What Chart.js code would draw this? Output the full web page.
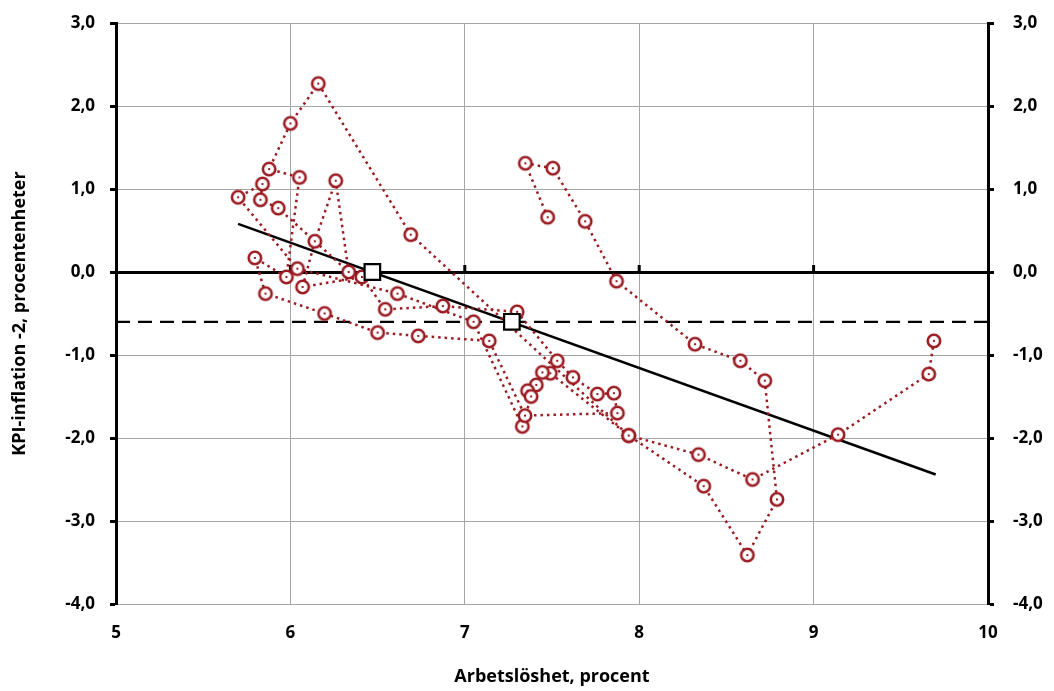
<!DOCTYPE html>
<html>
<head>
<meta charset="utf-8">
<script src="https://cdn.jsdelivr.net/npm/chart.js@4.4.1/dist/chart.umd.min.js"></script>
<style>
  body { margin: 0; background: #fff; }
  #wrap { width: 1054px; height: 691px; }
</style>
</head>
<body>
<div id="wrap"><canvas id="chart"></canvas></div>
<script>
// arbetslöshet (x) och KPI-inflation minus 2 (y), i tidsordning
const unemployment = [9.69, 9.66, 9.14, 8.65, 8.34, 7.94, 7.49, 7.445, 7.41, 7.36,
  7.38, 7.33, 7.05, 6.614, 6.04, 5.70, 5.84, 5.828, 5.93, 6.334,
  6.26, 6.14, 6.07, 6.41, 6.544, 6.874, 7.30, 7.53, 7.62, 7.76,
  7.855, 7.875, 7.345, 7.14, 6.733, 6.50, 6.196, 5.857, 5.796, 5.977,
  6.052, 5.878, 6.00, 6.16, 6.69, 7.94, 8.37, 8.62, 8.79, 8.72,
  8.58, 8.32, 7.87, 7.69, 7.505, 7.347, 7.475];
const inflationGap = [-0.83, -1.23, -1.96, -2.50, -2.20, -1.97, -1.22, -1.21, -1.36, -1.43,
  -1.50, -1.86, -0.60, -0.26, 0.04, 0.90, 1.06, 0.87, 0.77, 0.00,
  1.10, 0.37, -0.18, -0.06, -0.45, -0.41, -0.48, -1.07, -1.27, -1.47,
  -1.46, -1.70, -1.73, -0.83, -0.77, -0.73, -0.50, -0.26, 0.17, -0.06,
  1.14, 1.24, 1.79, 2.27, 0.45, -1.97, -2.58, -3.41, -2.74, -1.31,
  -1.07, -0.87, -0.11, 0.61, 1.25, 1.31, 0.66];

// skattad långsiktig Phillipskurva
const fitX = [5.7, 9.7];
const fitY = [0.58, -2.44];
// genomsnittlig inflation -0,6
const avgX = [5, 10];
const avgY = [-0.6, -0.6];
// markerade punkter på kurvan
const markX = [6.47, 7.27];
const markY = [0, -0.6];

const xTicks = [5, 6, 7, 8, 9, 10];
const yTicks = [-4, -3, -2, -1, 0, 1, 2, 3];

const red = '#9a1c22';
const gridGray = '#a6a6a6';
const font = { family: '"Open Sans", "DejaVu Sans", sans-serif', size: 17, weight: 'bold' };
const titleFont = { family: '"Open Sans", "DejaVu Sans", sans-serif', size: 18, weight: 'bold' };

function pts(xs, ys) {
  return xs.map((x, i) => ({ x: x, y: ys[i] }));
}

function ringMarker() {
  const c = document.createElement('canvas');
  c.width = 18; c.height = 18;
  const g = c.getContext('2d');
  g.beginPath();
  g.arc(9, 9, 6.2, 0, 2 * Math.PI);
  g.fillStyle = '#fff';
  g.fill();
  g.lineWidth = 2.6;
  g.strokeStyle = red;
  g.stroke();
  g.fillStyle = red;
  g.fillRect(8, 8, 2, 2);
  return c;
}

// små streck ovanför nollinjen
const zeroTicks = {
  id: 'zeroTicks',
  beforeDatasetsDraw(chart) {
    const x = chart.scales.x, y = chart.scales.y;
    const y0 = y.getPixelForValue(0);
    const g = chart.ctx;
    g.save();
    g.fillStyle = '#000';
    xTicks.forEach(v => {
      if (v <= x.min || v >= x.max) return;
      const px = x.getPixelForValue(v);
      g.fillRect(px - 1.5, y0 - 7, 3, 7);
    });
    g.restore();
  }
};

const fmt = v => v.toFixed(1).replace('.', ',');

function fitVertical(w) {
  return s => {
    s.width = w;
    s.paddingTop = 0;
    s.paddingBottom = 0;
  };
}

new Chart(document.getElementById('chart'), {
  type: 'scatter',
  data: {
    datasets: [
      {
        data: pts(markX, markY),
        pointStyle: 'rect',
        pointRadius: 11,
        pointBorderWidth: 2.2,
        pointBorderColor: '#000',
        pointBackgroundColor: '#fff',
        showLine: false
      },
      {
        data: pts(unemployment, inflationGap),
        showLine: true,
        borderColor: red,
        borderWidth: 2.5,
        borderDash: [2.5, 4],
        pointStyle: ringMarker(),
        pointRadius: 7
      },
      {
        data: pts(fitX, fitY),
        showLine: true,
        borderColor: '#000',
        borderWidth: 2.6,
        pointRadius: 0
      },
      {
        data: pts(avgX, avgY),
        showLine: true,
        borderColor: '#000',
        borderWidth: 2.3,
        borderDash: [14, 8],
        pointRadius: 0
      }
    ]
  },
  options: {
    responsive: true,
    maintainAspectRatio: false,
    animation: false,
    layout: { padding: { top: 23, left: 0, right: 0, bottom: 0 } },
    plugins: {
      legend: { display: false },
      tooltip: { enabled: false }
    },
    scales: {
      x: {
        type: 'linear',
        min: 5,
        max: 10,
        afterBuildTicks: s => { s.ticks = xTicks.map(v => ({ value: v })); },
        afterFit: s => { s.height = 87; s.paddingLeft = 0; s.paddingRight = 0; },
        ticks: { color: '#000', font: font, padding: 19 },
        grid: { color: gridGray, lineWidth: 1, drawTicks: false },
        border: { display: false },
        title: {
          display: true,
          text: 'Arbetslöshet, procent',
          color: '#000',
          font: titleFont,
          padding: { top: 0, bottom: 3 }
        }
      },
      y: {
        type: 'linear',
        position: 'left',
        min: -4,
        max: 3,
        afterBuildTicks: s => { s.ticks = yTicks.map(v => ({ value: v })); },
        afterFit: fitVertical(116),
        ticks: { color: '#000', font: font, padding: 15, callback: fmt },
        grid: {
          color: c => (c.tick && c.tick.value === 0 ? '#000' : gridGray),
          lineWidth: c => (c.tick && c.tick.value === 0 ? 3 : 1),
          tickColor: '#000',
          tickWidth: 3,
          tickLength: 6
        },
        border: { display: true, color: '#000', width: 3 },
        title: {
          display: true,
          text: 'KPI-inflation -2, procentenheter',
          color: '#000',
          font: titleFont,
          padding: { top: 9, bottom: 0 }
        }
      },
      y2: {
        type: 'linear',
        position: 'right',
        min: -4,
        max: 3,
        afterBuildTicks: s => { s.ticks = yTicks.map(v => ({ value: v })); },
        afterFit: fitVertical(66),
        ticks: { color: '#000', font: font, padding: 19, callback: fmt },
        grid: {
          drawOnChartArea: false,
          tickColor: '#000',
          tickWidth: 3,
          tickLength: 6
        },
        border: { display: true, color: '#000', width: 3 }
      }
    }
  },
  plugins: [zeroTicks]
});
</script>
</body>
</html>
